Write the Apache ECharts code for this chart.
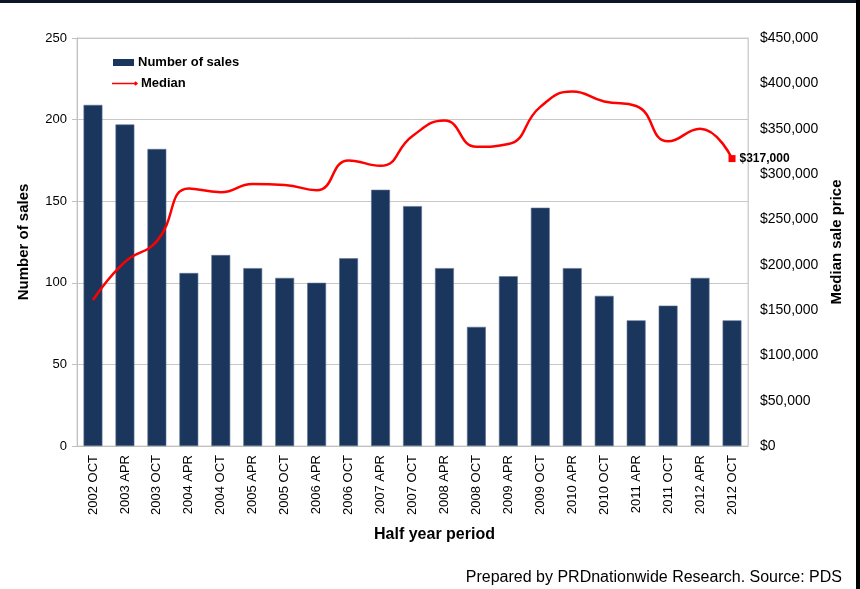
<!DOCTYPE html>
<html>
<head>
<meta charset="utf-8">
<script src="https://cdn.jsdelivr.net/npm/echarts@6/dist/echarts.min.js"></script>
<style>
html,body{margin:0;padding:0;background:#fff;}
#c{width:860px;height:589px;}
</style>
</head>
<body>
<div id="c"></div>
<script>
const categories = ['2002 OCT','2003 APR','2003 OCT','2004 APR','2004 OCT','2005 APR','2005 OCT','2006 APR','2006 OCT','2007 APR','2007 OCT','2008 APR','2008 OCT','2009 APR','2009 OCT','2010 APR','2010 OCT','2011 APR','2011 OCT','2012 APR','2012 OCT'];
const salesCount = [209,197,182,106,117,109,103,100,115,157,147,109,73,104,146,109,92,77,86,103,77];
const medianPrice = [161000,203000,226000,284000,280000,289000,288000,282000,315000,309000,342000,359000,330000,333000,374000,391000,380000,375000,336000,350000,317000];
const leftTicks = {min:0,max:250,interval:50};
const rightTicks = {min:0,max:450000,interval:50000};

const FONT = "'Liberation Sans', Arial, sans-serif";
const fmtMoney = v => '$' + Math.round(v).toLocaleString('en-US');

const lineData = medianPrice.map((v,i) => {
  if (i === medianPrice.length - 1) {
    return {
      value: v,
      symbol: 'rect',
      symbolSize: 7,
      label: {
        show: true, position: 'right', distance: 4,
        formatter: p => fmtMoney(p.value),
        fontFamily: FONT, fontSize: 12, fontWeight: 'bold', color: '#000'
      }
    };
  }
  return v;
});

const chart = echarts.init(document.getElementById('c'), null, {renderer:'canvas'});
chart.setOption({
  animation: false,
  backgroundColor: '#fff',
  textStyle: {fontFamily: FONT},
  grid: {left:77, right:112, top:38, bottom:143, show:true, borderColor:'#d0d0d0', borderWidth:1, containLabel:false},
  legend: [
    {
      data: ['Number of sales'], left: 113, top: 56, orient: 'vertical', padding: 0,
      icon: 'rect', itemWidth: 21, itemHeight: 7, itemGap: 6,
      itemStyle: {borderWidth: 0},
      textStyle: {fontFamily: FONT, fontSize: 13, fontWeight: 'bold', color: '#000', padding:[0,0,0,-1]}
    },
    {
      data: [{name:'Median', icon:'path://M0,3.3L23,3.3L23,4.7L0,4.7Z M25,1.5L27.5,4L25,6.5L22.5,4Z'}],
      left: 112, top: 77, orient: 'vertical', padding: 0,
      itemWidth: 26, itemHeight: 8,
      textStyle: {fontFamily: FONT, fontSize: 13, fontWeight: 'bold', color: '#000', padding:[0,0,0,-2]}
    }
  ],
  xAxis: {
    type: 'category',
    data: categories,
    name: 'Half year period',
    nameLocation: 'middle',
    nameGap: 81,
    nameTextStyle: {fontFamily: FONT, fontSize: 16, fontWeight: 'bold', color: '#000', padding:[0,0,0,44]},
    axisLine: {show:true, lineStyle:{color:'#c0c0c0'}},
    axisTick: {show:false},
    axisLabel: {interval:0, rotate:90, fontFamily: FONT, fontSize:13, color:'#000', margin:9},
    splitLine: {show:false}
  },
  yAxis: [
    {
      type: 'value',
      min: leftTicks.min, max: leftTicks.max, interval: leftTicks.interval,
      name: 'Number of sales',
      nameLocation: 'middle', nameGap: 46, nameRotate: 90,
      nameTextStyle: {fontFamily: FONT, fontSize: 15, fontWeight: 'bold', color: '#000'},
      axisLine: {show:true, lineStyle:{color:'#c0c0c0'}},
      axisTick: {show:true, inside:false, length:5, lineStyle:{color:'#c0c0c0'}},
      axisLabel: {fontFamily: FONT, fontSize:13, color:'#000', margin:10},
      splitLine: {show:true, lineStyle:{color:'#c8c8c8', width:1}}
    },
    {
      type: 'value',
      position: 'right',
      min: rightTicks.min, max: rightTicks.max, interval: rightTicks.interval,
      name: 'Median sale price',
      nameLocation: 'middle', nameGap: 77, nameRotate: 90,
      nameTextStyle: {fontFamily: FONT, fontSize: 15, fontWeight: 'bold', color: '#000'},
      axisLine: {show:true, lineStyle:{color:'#d0d0d0'}},
      axisTick: {show:false},
      axisLabel: {fontFamily: FONT, fontSize:14, color:'#000', margin:12, formatter: v => fmtMoney(v)},
      splitLine: {show:false}
    }
  ],
  series: [
    {
      name: 'Number of sales',
      type: 'bar',
      yAxisIndex: 0,
      data: salesCount,
      barWidth: '59%',
      itemStyle: {color:'#1a365d', borderColor:'#5d7292', borderWidth:0.6}
    },
    {
      name: 'Median',
      type: 'line',
      yAxisIndex: 1,
      data: lineData,
      smooth: 0.5,
      symbol: 'none',
      itemStyle: {color:'#ff0000'},
      lineStyle: {color:'#ff0000', width:2.5},
      z: 5
    }
  ],
  graphic: [
    {type:'rect', left:0, top:0, shape:{width:860, height:3}, style:{fill:'#0b1626'}},
    {type:'rect', left:856, top:0, shape:{width:4, height:589}, style:{fill:'#000'}},
    {type:'text', right:18, top:570, style:{text:'Prepared by PRDnationwide Research. Source: PDS', font:"16px 'Liberation Sans', Arial, sans-serif", fill:'#000'}}
  ]
});
</script>
</body>
</html>
